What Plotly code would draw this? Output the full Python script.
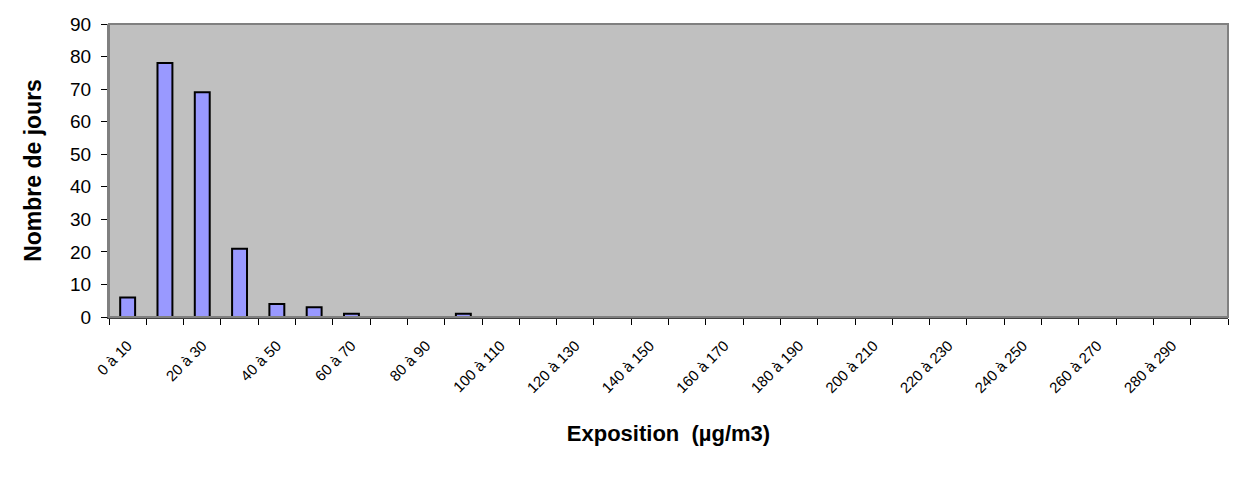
import plotly.graph_objects as go

categories = [f"{i*10} à {i*10+10}" for i in range(30)]
values = [6, 78, 69, 21, 4, 3, 1, 0, 0, 1] + [0] * 20
tick_labels = [c if i % 2 == 0 else "" for i, c in enumerate(categories)]

fig = go.Figure(go.Bar(
    x=categories, y=values,
    marker=dict(color="#9999FF", line=dict(color="black", width=2)),
))

fig.update_layout(
    width=1239, height=481,
    margin=dict(l=101, r=19, t=16, b=172),
    paper_bgcolor="white", plot_bgcolor="#C0C0C0",
    bargap=0.6, showlegend=False,
    font=dict(family="Arial, Liberation Sans", color="black"),
)
fig.update_xaxes(
    type="category", tickmode="array", tickvals=categories, ticktext=tick_labels,
    tickson="boundaries", ticks="outside", ticklen=6, tickcolor="black",
    tickangle=-45, tickfont=dict(size=15), ticklabelstandoff=12,
    showline=True, linecolor="#404040", linewidth=2, mirror=False,
    showgrid=False, automargin=False,
    title=dict(text="<b>Exposition  (µg/m3)</b>", font=dict(size=22), standoff=30),
)
fig.update_yaxes(
    range=[0, 90], dtick=10, ticks="outside", ticklen=6, tickcolor="black",
    tickfont=dict(size=19), showgrid=False, zeroline=False, ticklabelstandoff=6,
    showline=True, linecolor="#808080", linewidth=2, automargin=False,
    title=dict(text="<b>Nombre de jours</b>", font=dict(size=23), standoff=22),
)
# plot border (top/right)
fig.add_shape(type="rect", xref="paper", yref="paper", x0=0, y0=0, x1=1, y1=1,
              line=dict(color="#808080", width=2), layer="above")
fig.write_html("out.html")
